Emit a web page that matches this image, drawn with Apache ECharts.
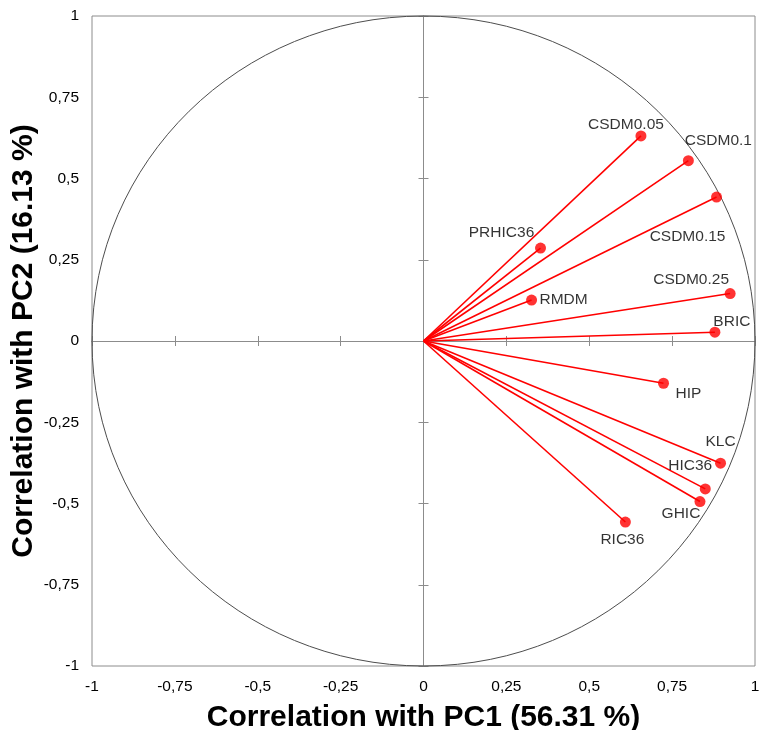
<!DOCTYPE html>
<html>
<head>
<meta charset="utf-8">
<script src="https://cdn.jsdelivr.net/npm/echarts@6/dist/echarts.min.js"></script>
<style>html,body{margin:0;padding:0;background:#fff}#c{width:759px;height:730px}</style>
</head>
<body>
<div id="c"></div>
<script>
// Variable names and their correlations with PC1 / PC2
var names = ['CSDM0.05','CSDM0.1','CSDM0.15','PRHIC36','RMDM','CSDM0.25','BRIC','HIP','KLC','HIC36','GHIC','RIC36'];
var pc1 = [0.656,0.799,0.884,0.353,0.326,0.925,0.879,0.724,0.896,0.850,0.834,0.609];
var pc2 = [0.631,0.555,0.443,0.286,0.126,0.146,0.027,-0.130,-0.376,-0.455,-0.494,-0.557];
var axisTicks = [-1,-0.75,-0.5,-0.25,0,0.25,0.5,0.75,1];
var xTitle = 'Correlation with PC1 (56.31 %)';
var yTitle = 'Correlation with PC2 (16.13 %)';

// label placement (style only)
var labelOffsets = {
  'CSDM0.05':[-15,-11],'CSDM0.1':[30,-20],'CSDM0.15':[-29,40],'PRHIC36':[-39,-15],
  'RMDM':[32,0],'CSDM0.25':[-39,-14],'BRIC':[17,-11],'HIP':[25,10],
  'KLC':[0,-21],'HIC36':[-15,-23],'GHIC':[-19,12],'RIC36':[-3,18]
};

var FONT = '"Liberation Sans", Arial, sans-serif';
function fmt(v){ return String(v).replace('.', ','); }

var pts = names.map(function(n,i){
  return {name:n, value:[pc1[i], pc2[i]],
    label:{offset: labelOffsets[n]}};
});
var vecs = names.map(function(n,i){ return {coords:[[0,0],[pc1[i],pc2[i]]]}; });

var baseAxis = {type:'value', min:-1, max:1, interval:0.25, splitLine:{show:false}};
function zeroAxis(pos, inside){
  return Object.assign({}, baseAxis, {
    position: pos,
    axisLine:{show:true, onZero:true, lineStyle:{color:'#8c8c8c', width:1}},
    axisTick:{show:true, inside:inside, length:5, lineStyle:{color:'#8c8c8c'}},
    axisLabel:{show:false}
  });
}

var chart = echarts.init(document.getElementById('c'), null, {renderer:'canvas'});
chart.setOption({
  animation:false,
  backgroundColor:'#fff',
  grid:{left:92, right:4, top:16, bottom:64, show:true, borderColor:'#8c8c8c', borderWidth:1, containLabel:false, outerBoundsMode:'none'},
  xAxis:[
    Object.assign({}, baseAxis, {
      position:'bottom',
      axisLine:{show:false, onZero:false}, axisTick:{show:false},
      axisLabel:{formatter:fmt, color:'#000', fontSize:15.5, fontFamily:FONT, margin:13},
      name:xTitle, nameLocation:'middle', nameGap:37, nameMoveOverlap:false,
      nameTextStyle:{fontSize:30, fontWeight:'bold', color:'#000', fontFamily:FONT}
    }),
    zeroAxis('bottom', true),
    zeroAxis('bottom', false)
  ],
  yAxis:[
    Object.assign({}, baseAxis, {
      position:'left',
      axisLine:{show:false, onZero:false}, axisTick:{show:false},
      axisLabel:{formatter:fmt, color:'#000', fontSize:15.5, fontFamily:FONT, margin:13},
      name:yTitle, nameLocation:'middle', nameGap:53, nameRotate:90, nameMoveOverlap:false,
      nameTextStyle:{fontSize:30, fontWeight:'bold', color:'#000', fontFamily:FONT}
    }),
    zeroAxis('left', true),
    zeroAxis('left', false)
  ],
  series:[
    {
      type:'custom', xAxisIndex:0, yAxisIndex:0, silent:true, z:1,
      data:[[0,0]],
      renderItem:function(params, api){
        var c = api.coord([0,0]);
        var s = api.size([1,1]);
        return {type:'ellipse', shape:{cx:c[0], cy:c[1], rx:s[0], ry:s[1]},
          style:{fill:null, stroke:'#4d4d4d', lineWidth:1}};
      }
    },
    {
      type:'lines', coordinateSystem:'cartesian2d', xAxisIndex:0, yAxisIndex:0, z:3,
      data:vecs, symbol:['none','none'],
      lineStyle:{color:'#ff0000', width:1.6, opacity:1}
    },
    {
      type:'scatter', xAxisIndex:0, yAxisIndex:0, z:4,
      data:pts, symbol:'circle', symbolSize:11,
      itemStyle:{color:'#ff0000'},
      label:{show:true, position:'inside', formatter:'{b}', color:'#000', fontSize:15.5, fontFamily:FONT, align:'center', verticalAlign:'middle'}
    }
  ]
});
</script>
</body>
</html>
